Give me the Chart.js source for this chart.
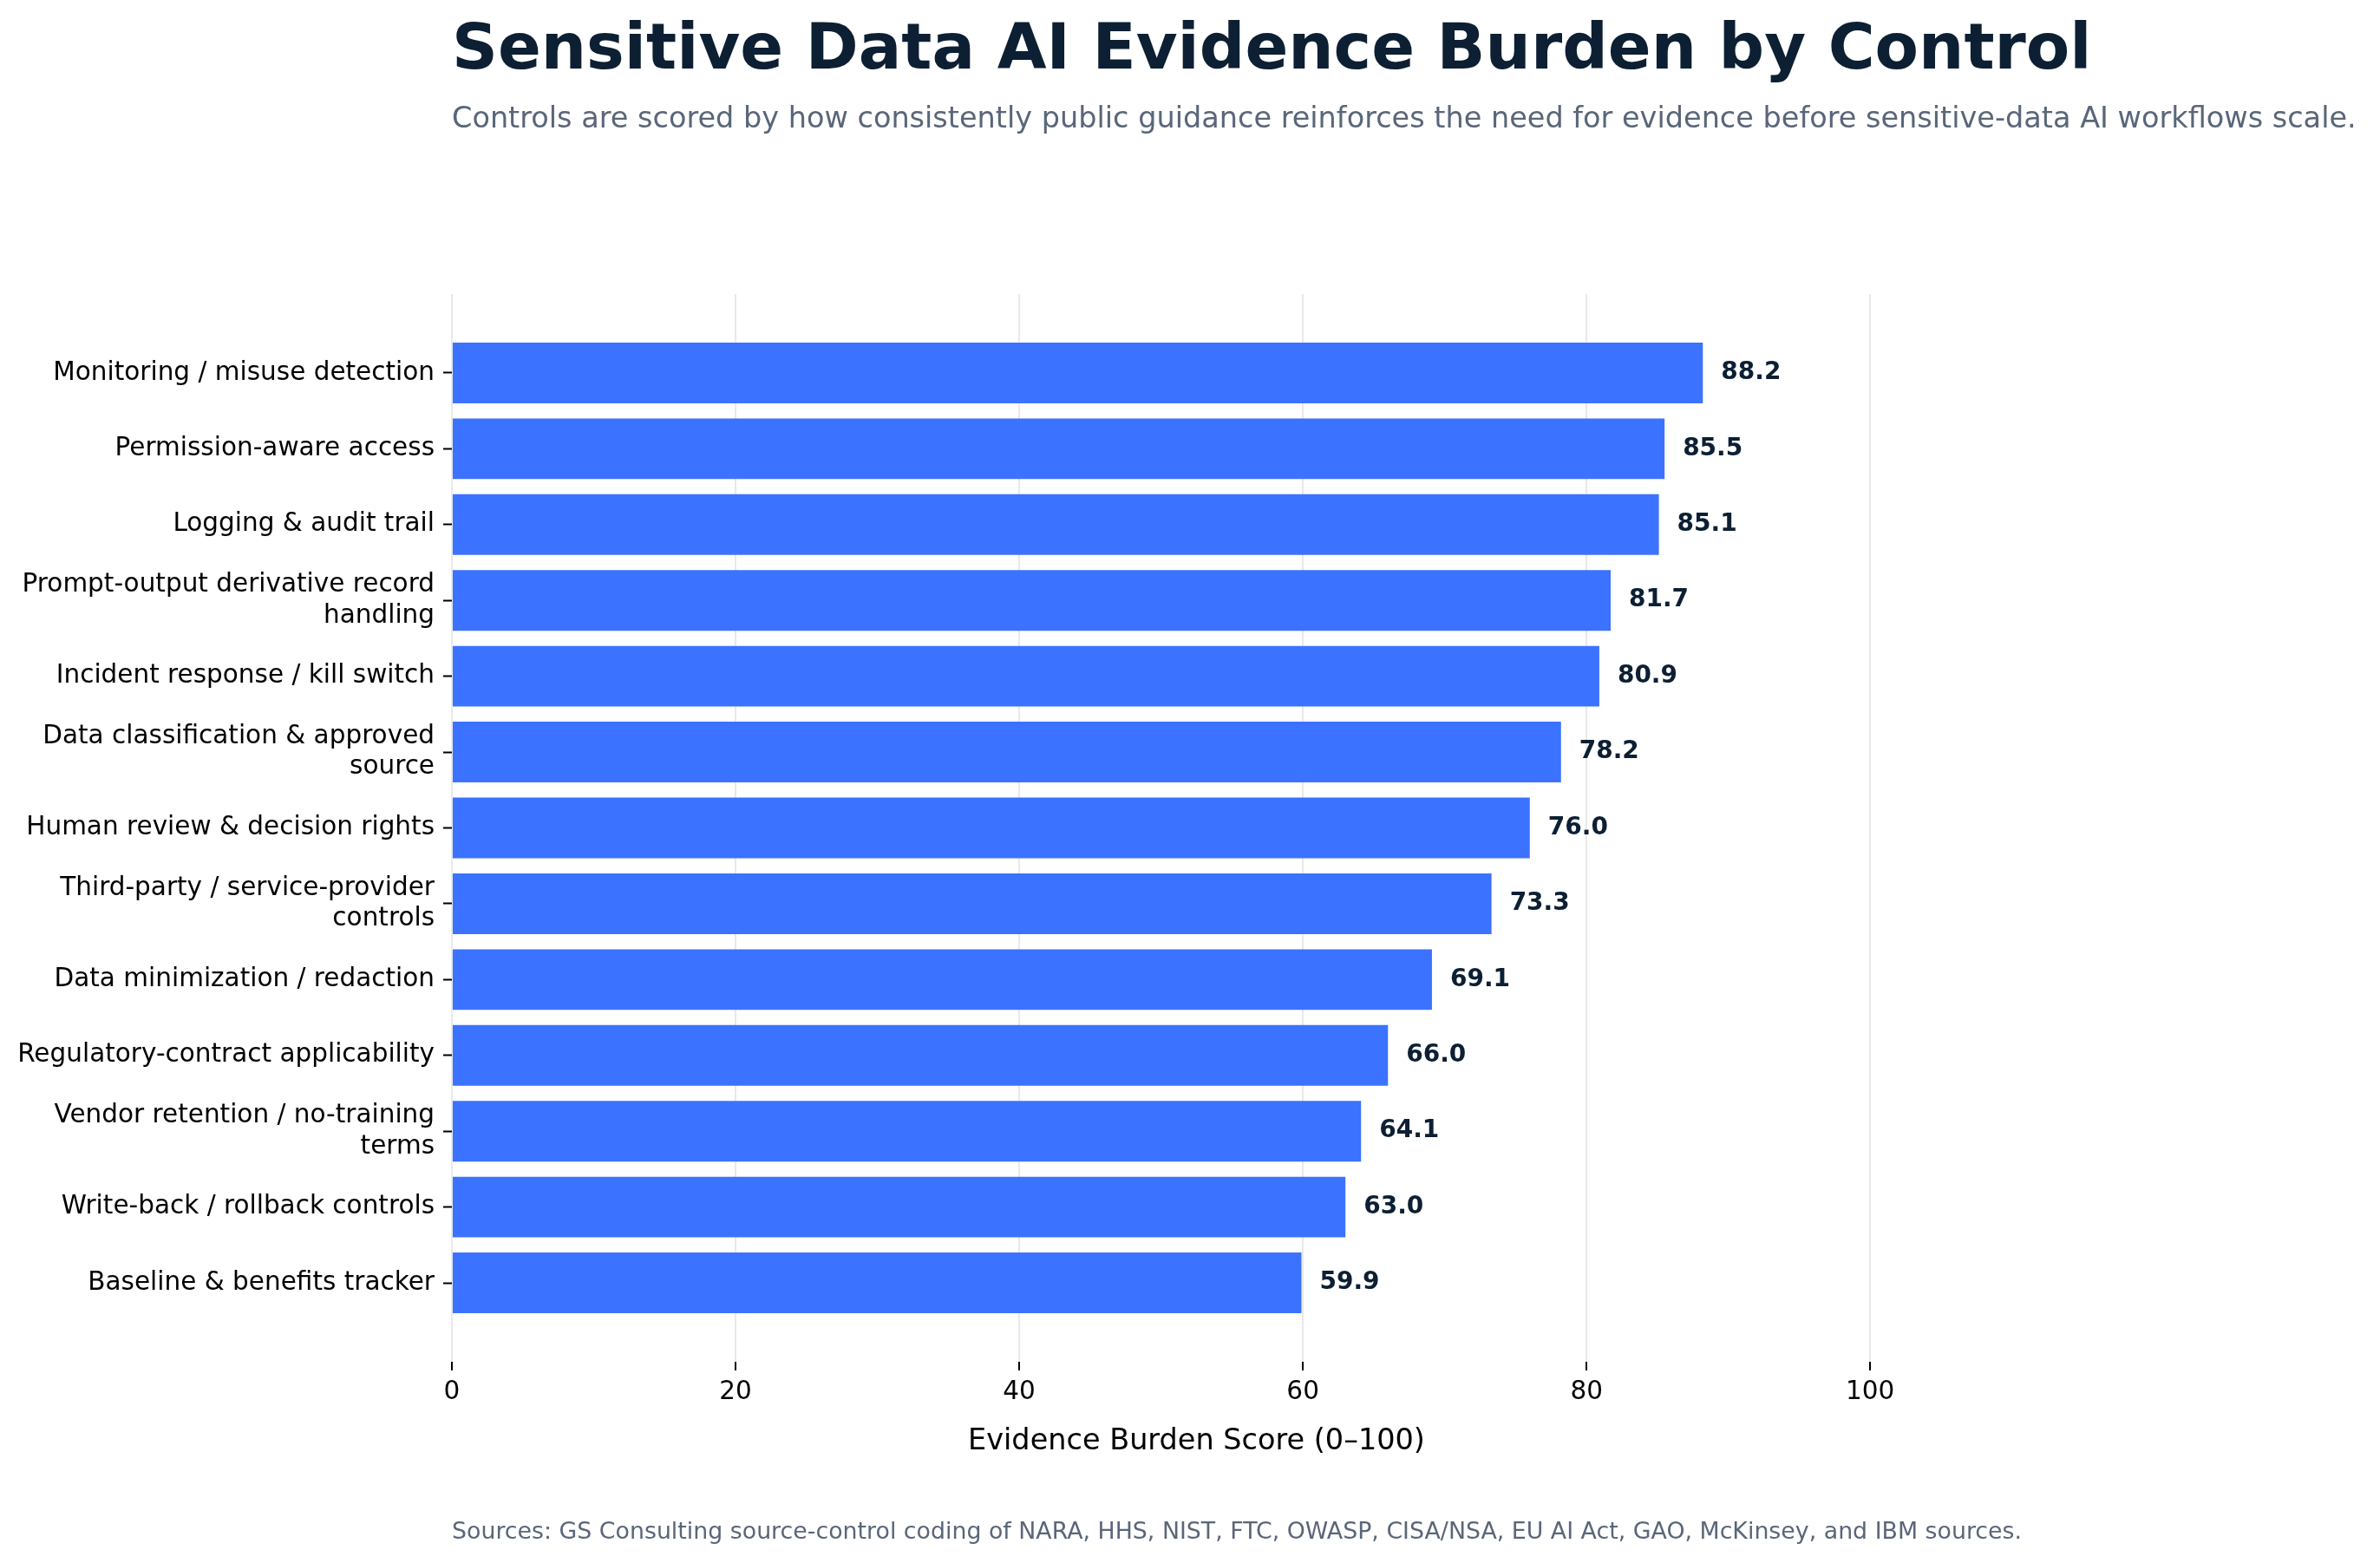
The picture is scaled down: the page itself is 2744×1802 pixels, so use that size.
<!DOCTYPE html>
<html>
<head>
<meta charset="utf-8">
<script src="https://cdn.jsdelivr.net/npm/chart.js@4.4.1/dist/chart.umd.min.js"></script>
<style>
  html, body { margin: 0; padding: 0; background: #ffffff; }
  #wrap { width: 2744px; height: 1802px; }
</style>
</head>
<body>
<div id="wrap"><canvas id="myChart" width="2744" height="1802"></canvas></div>
<script>
  // Chart data
  const controls = [
    'Monitoring / misuse detection',
    'Permission-aware access',
    'Logging & audit trail',
    'Prompt-output derivative record handling',
    'Incident response / kill switch',
    'Data classification & approved source',
    'Human review & decision rights',
    'Third-party / service-provider controls',
    'Data minimization / redaction',
    'Regulatory-contract applicability',
    'Vendor retention / no-training terms',
    'Write-back / rollback controls',
    'Baseline & benefits tracker'
  ];
  const scores = [88.2, 85.5, 85.1, 81.7, 80.9, 78.2, 76.0, 73.3, 69.1, 66.0, 64.1, 63.0, 59.9];
  const xTicks = [0, 20, 40, 60, 80, 100];

  const titleText = 'Sensitive Data AI Evidence Burden by Control';
  const subtitleText = 'Controls are scored by how consistently public guidance reinforces the need for evidence before sensitive-data AI workflows scale.';
  const sourceText = 'Sources: GS Consulting source-control coding of NARA, HHS, NIST, FTC, OWASP, CISA/NSA, EU AI Act, GAO, McKinsey, and IBM sources.';

  const FONT = "'DejaVu Sans', 'Liberation Sans', sans-serif";

  // wrap long labels onto two lines, like textwrap
  function wrap(text, width) {
    const words = text.split(' ');
    const lines = [];
    let line = '';
    words.forEach(w => {
      const next = line ? line + ' ' + w : w;
      if (next.length > width && line) {
        lines.push(line);
        line = w;
      } else {
        line = next;
      }
    });
    lines.push(line);
    return lines.length > 1 ? lines : lines[0];
  }

  // title, subtitle and source note, aligned with the plot's left edge
  const headerPlugin = {
    id: 'header',
    afterDraw(chart) {
      const c = chart.ctx;
      const left = chart.chartArea.left;
      c.save();
      c.textAlign = 'left';
      c.textBaseline = 'alphabetic';
      c.fillStyle = '#0c1f33';
      c.font = 'bold 73.5px ' + FONT;
      c.fillText(titleText, left, 79);
      c.fillStyle = '#5a6679';
      c.font = '33.5px ' + FONT;
      c.fillText(subtitleText, left, 147);
      c.font = '26.8px ' + FONT;
      c.fillText(sourceText, left, 1774);
      c.restore();
    }
  };

  // value labels at the end of each bar
  const valueLabels = {
    id: 'valueLabels',
    afterDatasetsDraw(chart) {
      const c = chart.ctx;
      const meta = chart.getDatasetMeta(0);
      c.save();
      c.font = 'bold 28px ' + FONT;
      c.fillStyle = '#0c1f33';
      c.textAlign = 'left';
      c.textBaseline = 'middle';
      meta.data.forEach((bar, i) => {
        c.fillText(scores[i].toFixed(1), bar.x + 21, bar.y);
      });
      c.restore();
    }
  };

  const ctx = document.getElementById('myChart').getContext('2d');

  const myChart = new Chart(ctx, {
    type: 'bar',
    data: {
      datasets: [{
        data: controls.map((c, i) => ({ x: scores[i], y: i })),
        backgroundColor: '#3b72ff',
        borderWidth: 0,
        barPercentage: 0.8,
        categoryPercentage: 1.0
      }]
    },
    options: {
      indexAxis: 'y',
      responsive: false,
      animation: false,
      devicePixelRatio: 1,
      layout: {
        padding: { top: 339, left: 0, right: 506, bottom: 90 }
      },
      plugins: {
        legend: { display: false },
        title: { display: false },
        tooltip: { enabled: false }
      },
      scales: {
        x: {
          type: 'linear',
          position: 'bottom',
          min: 0,
          max: 105,
          afterBuildTicks: s => { s.ticks = xTicks.map(v => ({ value: v })); },
          afterFit: s => { s.height = 142; },
          border: { display: false },
          grid: {
            color: '#e9e9e9',
            lineWidth: 2,
            tickColor: '#000000',
            tickLength: 10,
            tickWidth: 2
          },
          ticks: {
            color: '#000000',
            padding: 8,
            font: { family: FONT, size: 29.5 }
          },
          title: {
            display: true,
            text: 'Evidence Burden Score (0–100)',
            color: '#000000',
            font: { family: FONT, size: 33.5 },
            padding: { top: 0, bottom: 30 }
          }
        },
        y: {
          type: 'linear',
          reverse: true,
          offset: false,
          min: -1.04,
          max: 13.04,
          afterBuildTicks: s => { s.ticks = controls.map((c, i) => ({ value: i })); },
          afterFit: s => { s.width = 521; },
          border: { display: false },
          grid: {
            offset: false,
            drawOnChartArea: false,
            tickColor: '#000000',
            tickLength: 10,
            tickWidth: 2
          },
          ticks: {
            color: '#000000',
            padding: 10,
            autoSkip: false,
            font: { family: FONT, size: 29.5, lineHeight: 1.2 },
            callback: v => wrap(controls[v], 34)
          }
        }
      }
    },
    plugins: [headerPlugin, valueLabels]
  });
</script>
</body>
</html>
